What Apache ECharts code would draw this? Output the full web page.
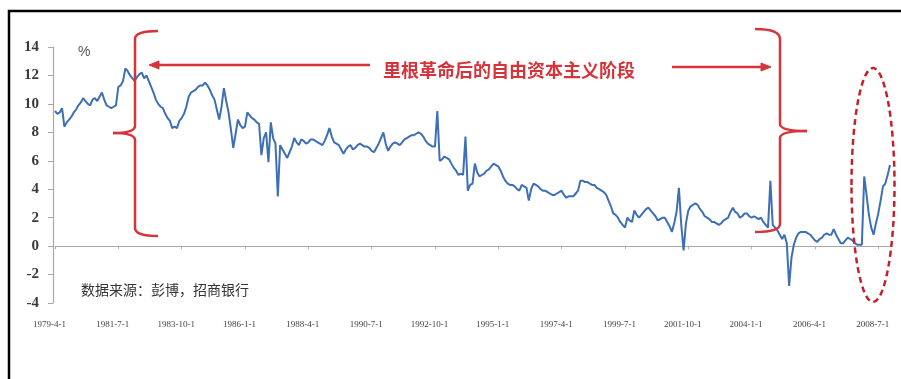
<!DOCTYPE html>
<html>
<head>
<meta charset="utf-8">
<script src="https://cdn.jsdelivr.net/npm/echarts@6/dist/echarts.min.js"></script>
<style>
  html, body { margin: 0; padding: 0; background: #fff; }
  #chart { width: 901px; height: 379px; }
</style>
</head>
<body>
<div id="chart"></div>
<script>
// Monthly series, April 1979 through December 2008 (%)
const START_YEAR = 1979;
const START_MONTH = 4;
const yoy = [
  /* 1979 */ 9.5, 9.3, 9.4, 9.7, 8.4, 8.7, 8.9, 9.1, 9.4,
  /* 1980 */ 9.6, 9.9, 10.1, 10.4, 10.2, 10.0, 9.9, 10.3, 10.4, 10.2, 10.5, 10.8,
  /* 1981 */ 10.3, 9.9, 9.8, 9.7, 9.8, 9.9, 11.2, 11.3, 11.6, 12.5, 12.3, 12.0,
  /* 1982 */ 11.8, 11.6, 11.9, 12.1, 12.2, 11.8, 12.0, 11.6, 11.2, 10.8, 10.3, 10.0,
  /* 1983 */ 9.8, 9.7, 9.3, 9.0, 8.8, 8.3, 8.4, 8.3, 8.8, 9.0, 9.3, 9.8,
  /* 1984 */ 10.5, 10.8, 10.9, 11.0, 11.2, 11.3, 11.3, 11.5, 11.3, 11.0, 10.6, 10.3,
  /* 1985 */ 9.6, 8.9, 9.8, 11.1, 10.2, 9.4, 8.2, 6.9, 7.9, 8.9, 8.5, 8.3,
  /* 1986 */ 8.4, 9.4, 9.2, 9.0, 8.9, 8.7, 8.6, 6.4, 7.6, 8.0, 5.9, 8.7,
  /* 1987 */ 7.6, 7.2, 3.5, 7.1, 6.8, 6.5, 6.2, 6.6, 7.0, 7.6, 7.3, 7.1,
  /* 1988 */ 7.5, 7.4, 7.2, 7.3, 7.5, 7.5, 7.4, 7.3, 7.2, 7.1, 7.4, 7.8,
  /* 1989 */ 8.3, 7.7, 7.3, 7.2, 7.1, 6.8, 6.5, 6.8, 7.0, 7.1, 6.8, 6.9,
  /* 1990 */ 7.1, 7.2, 7.1, 7.0, 7.0, 6.9, 6.7, 6.6, 6.9, 7.2, 7.6, 8.0,
  /* 1991 */ 7.2, 6.7, 7.0, 7.2, 7.3, 7.2, 7.1, 7.3, 7.5, 7.6, 7.7, 7.8,
  /* 1992 */ 7.8, 7.9, 8.0, 7.9, 7.7, 7.4, 7.2, 7.1, 7.0, 7.0, 9.5, 6.0,
  /* 1993 */ 6.1, 6.3, 6.2, 6.1, 5.8, 5.5, 5.3, 5.0, 5.1, 5.0, 7.7, 3.9,
  /* 1994 */ 4.3, 4.4, 5.8, 5.2, 4.9, 5.0, 5.1, 5.3, 5.4, 5.6, 5.8, 5.7,
  /* 1995 */ 5.6, 5.3, 4.9, 4.6, 4.4, 4.3, 4.3, 4.2, 4.0, 3.9, 4.3, 4.2,
  /* 1996 */ 4.1, 3.2, 4.0, 4.4, 4.3, 4.2, 4.0, 3.9, 3.9, 3.8, 3.7, 3.6,
  /* 1997 */ 3.6, 3.7, 3.8, 3.9, 3.6, 3.4, 3.5, 3.5, 3.5, 3.7, 3.9, 4.6,
  /* 1998 */ 4.6, 4.5, 4.5, 4.4, 4.3, 4.3, 4.1, 4.0, 3.9, 3.8, 3.6, 3.2,
  /* 1999 */ 2.8, 2.3, 2.2, 2.0, 1.7, 1.5, 1.3, 2.0, 1.8, 1.7, 2.5, 2.2,
  /* 2000 */ 2.0, 2.2, 2.4, 2.6, 2.7, 2.5, 2.3, 2.1, 1.8, 1.9, 2.0, 2.0,
  /* 2001 */ 1.7, 1.4, 1.0, 1.6, 2.4, 4.1, 1.5, -0.3, 1.6, 2.5, 2.8, 2.9,
  /* 2002 */ 3.0, 2.9, 2.6, 2.4, 2.1, 2.0, 1.9, 1.7, 1.7, 1.6, 1.5, 1.6,
  /* 2003 */ 1.8, 1.9, 2.0, 2.4, 2.7, 2.4, 2.3, 2.0, 2.1, 2.3, 2.3, 2.1,
  /* 2004 */ 2.0, 2.1, 2.0, 1.9, 2.0, 1.7, 1.5, 1.3, 4.6, 1.5, 1.3, 1.1,
  /* 2005 */ 0.8, 0.5, 0.8, 0.2, -2.8, -0.8, 0.1, 0.6, 0.9, 1.0, 1.0, 1.0,
  /* 2006 */ 0.9, 0.8, 0.6, 0.4, 0.3, 0.5, 0.6, 0.8, 0.9, 0.8, 0.8, 1.2,
  /* 2007 */ 0.8, 0.5, 0.2, 0.2, 0.4, 0.6, 0.5, 0.4, 0.2, 0.1, 0.1, 0.1,
  /* 2008 */ 4.9, 3.6, 2.2, 1.3, 0.8, 1.6, 2.3, 3.2, 4.2, 4.4, 5.0, 5.7
];

// Value axis ticks
const Y_MIN = -4;
const Y_MAX = 14;
const Y_STEP = 2;
// One date label every 27 months
const LABEL_EVERY = 27;

const periodTitle = '里根革命后的自由资本主义阶段';
const sourceNote = '数据来源：彭博，招商银行';
const unitLabel = '%';

// Category labels in the form 1979-4-1
const months = yoy.map(function (_, i) {
  const t = START_MONTH - 1 + i;
  return (START_YEAR + Math.floor(t / 12)) + '-' + (t % 12 + 1) + '-1';
});

const RED = '#d6343a';
const AXIS_GRAY = '#a8a8a8';
const chart = echarts.init(document.getElementById('chart'), null, { renderer: 'canvas' });

const redStroke = { stroke: RED, lineWidth: 2.5, fill: null };

function seg(x1, y1, x2, y2) {
  return { type: 'line', z: 20, shape: { x1: x1, y1: y1, x2: x2, y2: y2 }, style: redStroke };
}
function curve(x1, y1, cx, cy, x2, y2) {
  return { type: 'bezierCurve', z: 20,
    shape: { x1: x1, y1: y1, cpx1: cx, cpy1: cy, x2: x2, y2: y2 }, style: redStroke };
}
// Curly brace on a vertical stem at x, tips at xTip (top/bottom) and xCusp (middle)
function brace(x, top, mid, bottom, xTip, xCusp, yTipTop, yTipBottom) {
  return [
    curve(xTip, yTipTop, x, yTipTop, x, top + 8),
    seg(x, top + 8, x, mid - 7),
    curve(x, mid - 7, x, mid, xCusp, mid),
    curve(xCusp, mid, x, mid, x, mid + 7),
    seg(x, mid + 7, x, bottom - 6),
    curve(x, bottom - 6, x, yTipBottom, xTip, yTipBottom)
  ];
}
function arrowHead(tipX, tipY, dir) {
  const len = 10, half = 4;
  return {
    type: 'polygon',
    z: 20,
    shape: { points: [[tipX, tipY], [tipX - dir * len, tipY - half], [tipX - dir * len, tipY + half]] },
    style: { fill: RED, stroke: RED, lineWidth: 1 }
  };
}

const decorations = [
  // outer frame
  { type: 'polyline', z: 30, shape: { points: [[9, 390], [9, 11], [901, 11]] },
    style: { stroke: '#000', lineWidth: 2.5, fill: null } },
  // unit
  { type: 'text', z: 20, style: { text: unitLabel, x: 78, y: 52, verticalAlign: 'middle',
    fill: '#555', font: '14px "Liberation Sans", sans-serif' } },
  // period title
  { type: 'text', z: 20, style: { text: periodTitle, x: 383, y: 70, verticalAlign: 'middle',
    fill: RED, font: 'bold 18px "Noto Sans CJK SC", sans-serif' } },
  // source note
  { type: 'text', z: 20, style: { text: sourceNote, x: 81, y: 290, verticalAlign: 'middle',
    fill: '#333', font: '14px "Noto Sans CJK SC", sans-serif' } },
  // arrows
  seg(370, 65, 156, 65),
  arrowHead(149, 65, -1),
  seg(672, 67, 764, 67),
  arrowHead(771, 67, 1),
  // highlight around the latest readings
  { type: 'ellipse', z: 20, shape: { cx: 873, cy: 185, rx: 21.5, ry: 117 },
    style: { stroke: '#c4202c', lineWidth: 2.5, lineDash: [6, 4], fill: null } }
].concat(
  brace(135, 31, 133, 234, 158, 113, 31, 236),
  brace(780, 31, 131, 230, 755, 807, 29, 232)
);

chart.setOption({
  animation: false,
  backgroundColor: '#ffffff',
  grid: { left: 55, right: 11, top: 47, bottom: 76, containLabel: false, outerBoundsMode: 'none' },
  xAxis: [
    {
      // date labels along the bottom edge
      type: 'category',
      data: months,
      boundaryGap: false,
      position: 'bottom',
      axisLine: { show: false, onZero: false },
      axisTick: { show: false },
      axisLabel: {
        interval: LABEL_EVERY - 1,
        margin: 17,
        padding: [0, 11, 0, 0],
        color: '#444',
        fontSize: 9,
        fontFamily: '"Liberation Serif", serif'
      },
      splitLine: { show: false }
    },
    {
      // zero baseline with its tick marks
      type: 'category',
      data: months,
      boundaryGap: false,
      position: 'top',
      axisLine: { show: true, onZero: true, lineStyle: { color: AXIS_GRAY, width: 1.2 } },
      axisTick: { show: true, inside: true, interval: LABEL_EVERY - 1, length: 3, lineStyle: { color: '#b0b0b0' } },
      axisLabel: { show: false },
      splitLine: { show: false }
    }
  ],
  yAxis: {
    type: 'value',
    min: Y_MIN,
    max: Y_MAX,
    interval: Y_STEP,
    offset: 2,
    axisLine: { show: true, lineStyle: { color: AXIS_GRAY, width: 1.2 } },
    axisTick: { show: true, length: 5, lineStyle: { color: AXIS_GRAY } },
    axisLabel: {
      margin: 14,
      color: '#3a3a3a',
      fontSize: 15,
      fontWeight: 'bold',
      fontFamily: '"Liberation Serif", serif'
    },
    splitLine: { show: false }
  },
  series: [{
    type: 'line',
    data: yoy,
    xAxisIndex: 0,
    showSymbol: false,
    symbol: 'none',
    lineStyle: { color: '#3d6fb6', width: 2 },
    z: 3
  }],
  graphic: decorations
});
</script>
</body>
</html>
